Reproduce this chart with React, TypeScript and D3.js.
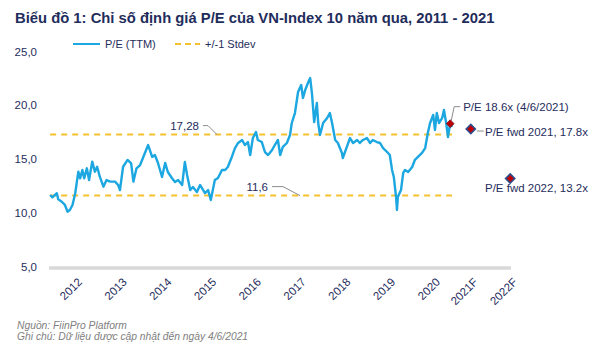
import { useMemo } from "react";
import { line, scaleLinear, format, symbol, symbolSquare } from "d3";

const WIDTH = 600;
const HEIGHT = 350;

const TITLE = "Biểu đồ 1: Chỉ số định giá P/E của VN-Index 10 năm qua, 2011 - 2021";
const SOURCE = "Nguồn: FiinPro Platform";
const NOTE = "Ghi chú: Dữ liệu được cập nhật đến ngày 4/6/2021";

// P/E (TTM), decimal year -> value
const peYears = [
  2012.40, 2012.45, 2012.55, 2012.58, 2012.66, 2012.73, 2012.79, 2012.84, 2012.90, 2012.96,
  2013.03, 2013.07, 2013.12, 2013.16, 2013.22, 2013.27, 2013.34, 2013.40, 2013.45, 2013.51,
  2013.59, 2013.66, 2013.74, 2013.85, 2013.92, 2013.96, 2014.03, 2014.13, 2014.21, 2014.26,
  2014.33, 2014.41, 2014.50, 2014.59, 2014.68, 2014.74, 2014.81, 2014.90, 2014.97, 2015.03,
  2015.12, 2015.19, 2015.26, 2015.35, 2015.41, 2015.46, 2015.53, 2015.59, 2015.68, 2015.75,
  2015.86, 2015.93, 2015.99, 2016.08, 2016.15, 2016.24, 2016.31, 2016.37, 2016.46, 2016.53,
  2016.60, 2016.69, 2016.75, 2016.82, 2016.87, 2016.93, 2017.00, 2017.04, 2017.13, 2017.20,
  2017.27, 2017.36, 2017.42, 2017.49, 2017.54, 2017.60, 2017.69, 2017.76, 2017.80, 2017.87,
  2017.94, 2018.01, 2018.05, 2018.10, 2018.16, 2018.21, 2018.25, 2018.30, 2018.36, 2018.39,
  2018.43, 2018.50, 2018.59, 2018.65, 2018.70, 2018.77, 2018.83, 2018.92, 2018.94, 2019.03,
  2019.10, 2019.17, 2019.26, 2019.32, 2019.39, 2019.48, 2019.55, 2019.61, 2019.70, 2019.77,
  2019.84, 2019.93, 2019.99, 2020.04, 2020.08, 2020.13, 2020.15, 2020.17, 2020.24, 2020.29,
  2020.33, 2020.40, 2020.49, 2020.55, 2020.62, 2020.71, 2020.78, 2020.84, 2020.89, 2020.96,
  2021.00, 2021.04, 2021.09, 2021.16, 2021.20, 2021.25, 2021.29, 2021.34, 2021.38,
];
const peValues = [
  11.66, 11.44, 11.82, 11.26, 11.03, 10.73, 10.10, 10.26, 10.73, 11.82,
  13.83, 13.21, 13.99, 13.21, 14.14, 13.05, 14.76, 13.83, 14.29, 13.36,
  12.43, 13.05, 12.90, 12.90, 12.59, 12.12, 14.29, 14.92, 14.61, 12.90,
  14.14, 14.45, 15.38, 16.31, 15.20, 15.38, 14.64, 13.33, 14.64, 13.80,
  13.24, 12.87, 13.05, 12.59, 14.73, 13.52, 12.12, 12.40, 11.94, 12.59,
  11.84, 12.12, 11.19, 13.05, 13.24, 13.99, 13.99, 14.26, 15.20, 16.03,
  16.50, 16.78, 16.31, 16.59, 15.38, 16.96, 17.52, 16.78, 16.59, 15.66,
  15.38, 15.85, 16.31, 16.78, 15.38, 16.13, 16.50, 17.24, 18.36, 19.29,
  21.25, 21.90, 20.69, 21.43, 22.09, 22.55, 21.15, 18.45, 20.22, 18.36,
  17.24, 18.36, 18.83, 19.29, 18.36, 16.78, 16.50, 15.57, 15.10, 16.13,
  16.96, 16.50, 16.78, 16.50, 16.78, 16.96, 16.50, 16.78, 16.59, 16.50,
  16.03, 15.66, 15.38, 13.99, 13.33, 11.47, 10.26, 11.47, 12.12, 13.71,
  13.99, 13.80, 14.26, 14.92, 15.20, 15.57, 16.03, 17.43, 18.36, 19.11,
  17.71, 19.29, 18.36, 18.83, 19.57, 18.36, 17.06, 18.36, 17.99,
];

const stdevUpper = 17.28;
const stdevLower = 11.6;

const latestYear = 2021.34;
const latestValue = 18.3;

const forecastLabels = ["2021F", "2022F"];
const forecastYears = [2021.8, 2022.68];
const forecastValues = [17.8, 13.2];

const yearLabels = ["2012", "2013", "2014", "2015", "2016", "2017", "2018", "2019", "2020"];
const yTicks = [5, 10, 15, 20, 25];

const NAVY = "#1F2D5C";
const BLUE = "#1CA7E1";
const GOLD = "#F5C12E";
const FONT = "'Liberation Sans', Arial, sans-serif";

export default function App() {
  const x = useMemo(() => scaleLinear().domain([2013, 2021]).range([77, 435]), []);
  const y = useMemo(() => scaleLinear().domain([5, 25]).range([266.5, 51.7]), []);
  const fmt = format(".1f");

  const pePath = line<number>()
    .x((d, i) => x(peYears[i]))
    .y((d) => y(d))(peValues);

  // rotated squares, like Excel's diamond markers
  const diamond = symbol().type(symbolSquare).size(42)();
  const smallDiamond = symbol().type(symbolSquare).size(30)();

  const x0 = x(peYears[0]);
  const x1 = x(peYears[peYears.length - 1]);
  const yu = y(stdevUpper);
  const yl = y(stdevLower);
  const lx = x(latestYear);
  const ly = y(latestValue);

  return (
    <svg
      width={WIDTH}
      height={HEIGHT}
      style={{ position: "absolute", left: 0, top: 0, background: "#fff" }}
      fontFamily={FONT}
    >
      <text x={15} y={23} fontSize={14.8} fontWeight="bold" fill={NAVY}>
        {TITLE}
      </text>

      {/* legend */}
      <line x1={73} x2={100} y1={44} y2={44} stroke={BLUE} strokeWidth={2} />
      <text x={105} y={48} fontSize={11} fill={NAVY}>P/E (TTM)</text>
      <line x1={175} x2={200} y1={44} y2={44} stroke={GOLD} strokeWidth={2} strokeDasharray="6 4" />
      <text x={205} y={48} fontSize={11} fill={NAVY}>+/-1 Stdev</text>

      {/* y labels */}
      {yTicks.map((t) => (
        <text key={t} x={37} y={y(t) + 4} fontSize={11.5} textAnchor="end" fill={NAVY}>
          {fmt(t).replace(".", ",")}
        </text>
      ))}

      {/* x axis */}
      <line x1={49} x2={511} y1={268} y2={268} stroke="#D9D9D9" strokeWidth={3.5} />
      {yearLabels.map((label) => {
        const px = x(+label + 1);
        return (
          <text key={label} transform={`translate(${px},${277}) rotate(-45)`} fontSize={11.5} textAnchor="end" dy="0.7em" fill={NAVY}>
            {label}
          </text>
        );
      })}
      {forecastLabels.map((label, i) => (
        <text key={label} transform={`translate(${x(forecastYears[i]) + 2},${277}) rotate(-45)`} fontSize={11.5} textAnchor="end" dy="0.7em" fill={NAVY}>
          {label}
        </text>
      ))}

      {/* stdev bands */}
      <line x1={x0} x2={x1} y1={yu} y2={yu} stroke={GOLD} strokeWidth={2} strokeDasharray="6 5" />
      <line x1={x0} x2={x1} y1={yl} y2={yl} stroke={GOLD} strokeWidth={2} strokeDasharray="6 5" />

      {/* P/E line */}
      <path d={pePath ?? ""} fill="none" stroke={BLUE} strokeWidth={2.4} strokeLinejoin="round" />

      {/* annotations */}
      <text x={199} y={yu - 5} fontSize={11.5} textAnchor="end" fill={NAVY}>17,28</text>
      <polyline points={`203,${yu - 9} 208,${yu - 9} 217,${yu}`} fill="none" stroke="#8C8C8C" strokeWidth={1} />
      <text x={268} y={yl - 5} fontSize={11.5} textAnchor="end" fill={NAVY}>11,6</text>
      <polyline points={`272,${yl - 9} 283,${yl - 9} 300,${yl}`} fill="none" stroke="#8C8C8C" strokeWidth={1} />

      <polyline points={`${lx + 1},${ly - 3} ${lx + 4},${ly - 17} ${lx + 10},${ly - 17}`} fill="none" stroke="#8C8C8C" strokeWidth={1} />
      <path d={smallDiamond ?? ""} transform={`translate(${lx},${ly}) rotate(45)`} fill="#C00000" stroke="#7A1020" strokeWidth={0.8} />
      <text x={lx + 13} y={ly - 13} fontSize={11.5} fill={NAVY}>P/E 18.6x (4/6/2021)</text>

      {forecastValues.map((v, i) => {
        const fx = x(forecastYears[i]);
        const fy = y(v);
        return (
          <g key={forecastLabels[i]}>
            <path d={diamond ?? ""} transform={`translate(${fx},${fy}) rotate(45)`} fill="#C00000" stroke="#2E4C8C" strokeWidth={1.6} />
            {i === 0 && <line x1={fx + 6} x2={fx + 13} y1={fy + 2} y2={fy + 2} stroke="#8C8C8C" strokeWidth={1} />}
          </g>
        );
      })}
      <text x={485} y={y(forecastValues[0]) + 7} fontSize={11.5} fill={NAVY}>
        P/E fwd 2021, 17.8x
      </text>
      <text x={485} y={y(forecastValues[1]) + 14} fontSize={11.5} fill={NAVY}>
        P/E fwd 2022, 13.2x
      </text>

      {/* footer */}
      <text x={17} y={329} fontSize={10.3} fontStyle="italic" fill="#808080">{SOURCE}</text>
      <text x={17} y={340} fontSize={10.3} fontStyle="italic" fill="#808080">{NOTE}</text>
    </svg>
  );
}
